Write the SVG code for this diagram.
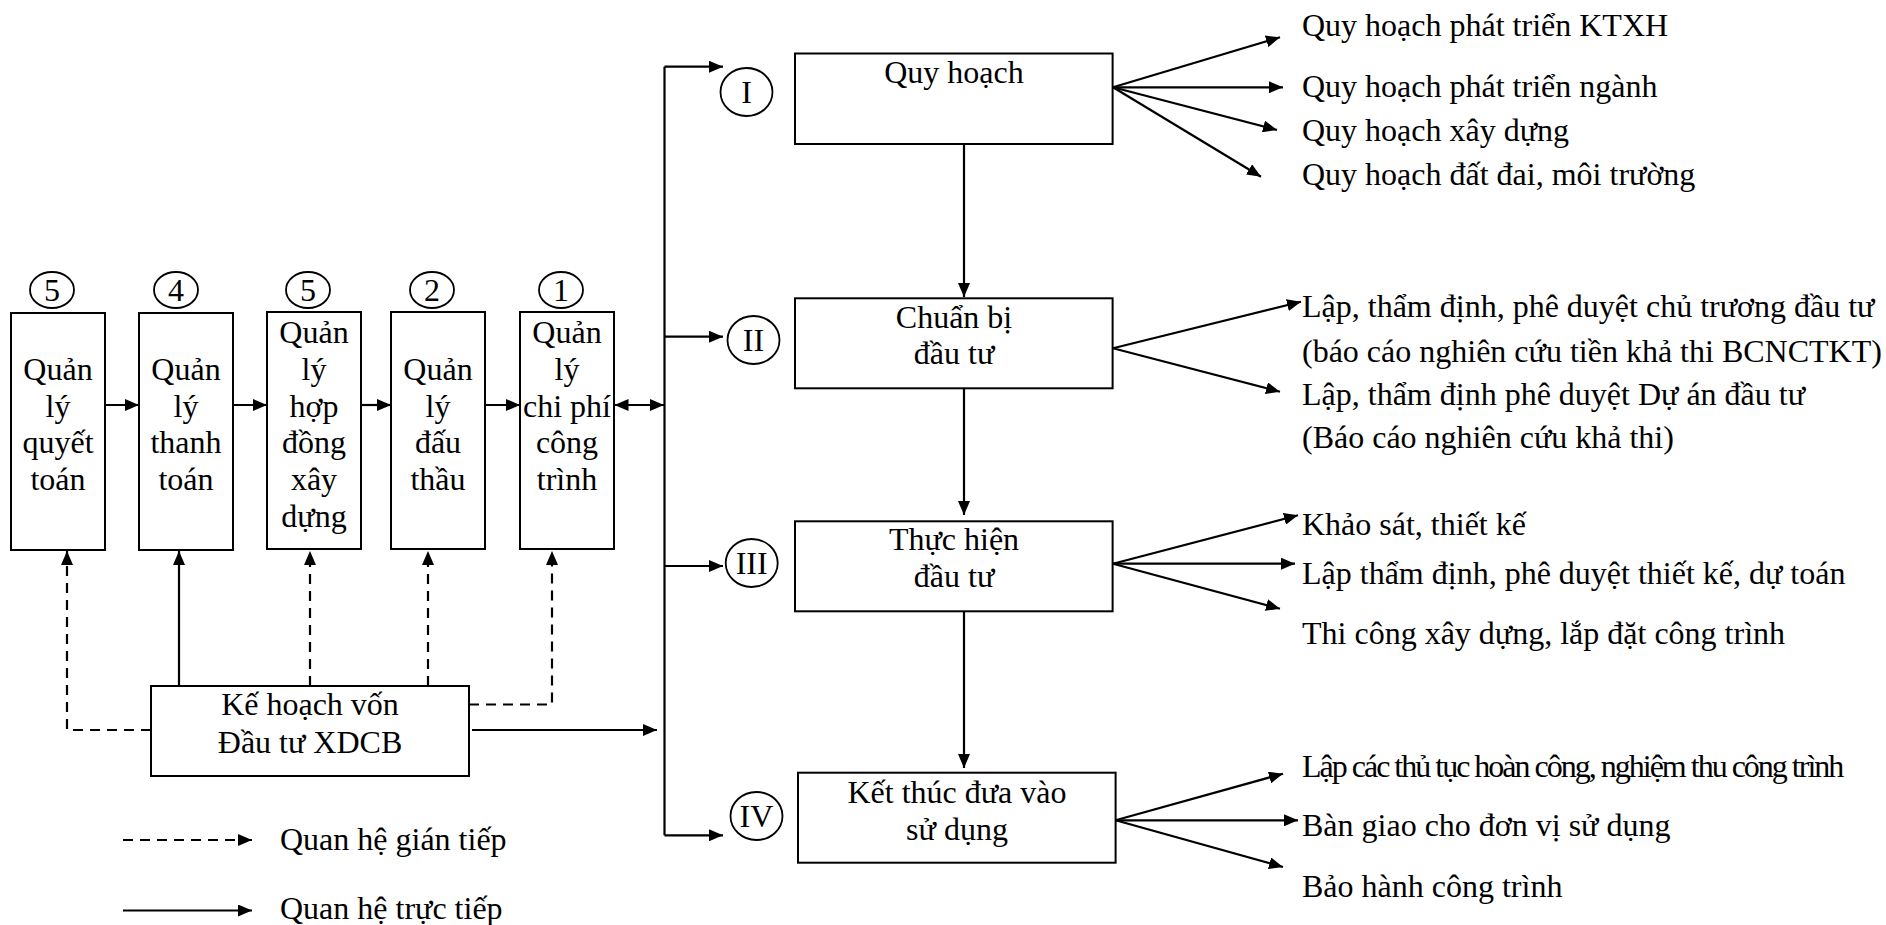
<svg xmlns="http://www.w3.org/2000/svg" width="1886" height="925" viewBox="0 0 1886 925">
<defs>
<marker id="ah" viewBox="0 0 14 12" refX="14" refY="6" markerWidth="14" markerHeight="12" markerUnits="userSpaceOnUse" orient="auto-start-reverse"><path d="M0,0 L14,6 L0,12 z" fill="#000"/></marker>
</defs>
<style>
text{font-family:"Liberation Serif","Times New Roman",serif;font-size:32px;fill:#000}
.c{text-anchor:middle}
.box{fill:#fff;stroke:#000;stroke-width:2}
.ring{fill:none;stroke:#000;stroke-width:1.8}
.ln{fill:none;stroke:#000;stroke-width:2.2}
.ar{fill:none;stroke:#000;stroke-width:2.2;marker-end:url(#ah)}
.da{fill:none;stroke:#000;stroke-width:2.2;stroke-dasharray:10 7;marker-end:url(#ah)}
.tight{letter-spacing:-2px}
</style>
<rect width="1886" height="925" fill="#fff"/>

<g id="connectors">
<path class="ln" d="M664.5,66.7 V835.3"/>
<path class="ar" d="M664.5,66.7 H723"/>
<path class="ar" d="M664.5,336.7 H723"/>
<path class="ar" d="M664.5,566 H723"/>
<path class="ar" d="M664.5,835.3 H723"/>
<path class="ar" d="M964,144 V297"/>
<path class="ar" d="M964,388 V515"/>
<path class="ar" d="M964,611 V768"/>
<path class="ar" d="M105,405 H139"/>
<path class="ar" d="M233,405 H267"/>
<path class="ar" d="M361,405 H391"/>
<path class="ar" d="M485,405 H520"/>
<path class="ar" style="marker-start:url(#ah)" d="M614.5,405 H664"/>
<path class="da" d="M151,730 H67 V551"/>
<path class="ar" d="M179,686 V551"/>
<path class="da" d="M310,686 V551"/>
<path class="da" d="M428,686 V551"/>
<path class="da" d="M469,704.5 H552 V551"/>
<path class="ar" d="M472,730 H657"/>
<path class="ar" d="M1113,87.3 L1280,37.3"/>
<path class="ar" d="M1113,87.3 L1283,87.3"/>
<path class="ar" d="M1113,87.3 L1277,130"/>
<path class="ar" d="M1113,87.3 L1261,176.7"/>
<path class="ar" d="M1113,348.3 L1301,301.7"/>
<path class="ar" d="M1113,348.3 L1280,391.7"/>
<path class="ar" d="M1113,563.7 L1298,515.3"/>
<path class="ar" d="M1113,563.7 L1295,563.7"/>
<path class="ar" d="M1113,563.7 L1280,608.7"/>
<path class="ar" d="M1115.6,820.3 L1283,773.7"/>
<path class="ar" d="M1115.6,820.3 L1298,820.3"/>
<path class="ar" d="M1115.6,820.3 L1283,867"/>
<path class="da" d="M123,840 H252"/>
<path class="ar" d="M123,910.5 H252"/>
</g>

<g id="n-qlqt">
<ellipse class="ring" cx="52" cy="290" rx="22" ry="18"/><text class="c" x="52" y="301">5</text>
<rect class="box" x="11" y="313" width="94" height="237"/>
<text class="c" x="58" y="380">Quản</text><text class="c" x="58" y="417">lý</text><text class="c" x="58" y="453">quyết</text><text class="c" x="58" y="490">toán</text>
</g>
<g id="n-qltt">
<ellipse class="ring" cx="176" cy="290" rx="22" ry="18"/><text class="c" x="176" y="301">4</text>
<rect class="box" x="139" y="313" width="94" height="237"/>
<text class="c" x="186" y="380">Quản</text><text class="c" x="186" y="417">lý</text><text class="c" x="186" y="453">thanh</text><text class="c" x="186" y="490">toán</text>
</g>
<g id="n-qlhd">
<ellipse class="ring" cx="308" cy="290" rx="22" ry="18"/><text class="c" x="308" y="301">5</text>
<rect class="box" x="267" y="312" width="94" height="237"/>
<text class="c" x="314" y="343">Quản</text><text class="c" x="314" y="380">lý</text><text class="c" x="314" y="417">hợp</text><text class="c" x="314" y="453">đồng</text><text class="c" x="314" y="490">xây</text><text class="c" x="314" y="527">dựng</text>
</g>
<g id="n-qldt">
<ellipse class="ring" cx="432" cy="290" rx="22" ry="18"/><text class="c" x="432" y="301">2</text>
<rect class="box" x="391" y="312" width="94" height="237"/>
<text class="c" x="438" y="380">Quản</text><text class="c" x="438" y="417">lý</text><text class="c" x="438" y="453">đấu</text><text class="c" x="438" y="490">thầu</text>
</g>
<g id="n-qlcp">
<ellipse class="ring" cx="561" cy="290" rx="22" ry="18"/><text class="c" x="561" y="301">1</text>
<rect class="box" x="520" y="312" width="94" height="237"/>
<text class="c" x="567" y="343">Quản</text><text class="c" x="567" y="380">lý</text><text class="c" x="567" y="417">chi phí</text><text class="c" x="567" y="453">công</text><text class="c" x="567" y="490">trình</text>
</g>

<g id="n-kehoach">
<rect class="box" x="151" y="686" width="318" height="90"/>
<text class="c" x="310" y="715">Kế hoạch vốn</text>
<text class="c" x="310" y="753">Đầu tư XDCB</text>
</g>

<g id="n-quyhoach">
<ellipse class="ring" cx="746.5" cy="92" rx="26" ry="24"/><text class="c" x="746.5" y="103">I</text>
<rect class="box" x="795" y="53.5" width="317.6" height="90.5"/>
<text class="c" x="954" y="83">Quy hoạch</text>
</g>
<g id="n-chuanbi">
<ellipse class="ring" cx="753.5" cy="340" rx="26" ry="24"/><text class="c" x="753.5" y="351">II</text>
<rect class="box" x="795" y="298.3" width="317.6" height="90"/>
<text class="c" x="954" y="328">Chuẩn bị</text>
<text class="c" x="954" y="364">đầu tư</text>
</g>
<g id="n-thuchien">
<ellipse class="ring" cx="751.7" cy="563" rx="26" ry="24"/><text class="c" x="751.7" y="574">III</text>
<rect class="box" x="795" y="521.3" width="317.6" height="90"/>
<text class="c" x="954" y="550">Thực hiện</text>
<text class="c" x="954" y="587">đầu tư</text>
</g>
<g id="n-ketthuc">
<ellipse class="ring" cx="756.5" cy="816" rx="26" ry="24"/><text class="c" x="756.5" y="827">IV</text>
<rect class="box" x="798" y="772.7" width="317.6" height="90"/>
<text class="c" x="957" y="803">Kết thúc đưa vào</text>
<text class="c" x="957" y="840">sử dụng</text>
</g>

<g id="n-outputs">
<text x="1302" y="36">Quy hoạch phát triển KTXH</text>
<text x="1302" y="97">Quy hoạch phát triển ngành</text>
<text x="1302" y="141">Quy hoạch xây dựng</text>
<text x="1302" y="185">Quy hoạch đất đai, môi trường</text>
<text x="1302" y="317">Lập, thẩm định, phê duyệt chủ trương đầu tư</text>
<text x="1302" y="362">(báo cáo nghiên cứu tiền khả thi BCNCTKT)</text>
<text x="1302" y="405">Lập, thẩm định phê duyệt Dự án đầu tư</text>
<text x="1302" y="448">(Báo cáo nghiên cứu khả thi)</text>
<text x="1302" y="535">Khảo sát, thiết kế</text>
<text x="1302" y="584">Lập thẩm định, phê duyệt thiết kế, dự toán</text>
<text x="1302" y="644">Thi công xây dựng, lắp đặt công trình</text>
<text class="tight" x="1302" y="777">Lập các thủ tục hoàn công, nghiệm thu công trình</text>
<text x="1302" y="836">Bàn giao cho đơn vị sử dụng</text>
<text x="1302" y="897">Bảo hành công trình</text>
</g>

<g id="legend">
<text x="280" y="850">Quan hệ gián tiếp</text>
<text x="280" y="919">Quan hệ trực tiếp</text>
</g>
</svg>
